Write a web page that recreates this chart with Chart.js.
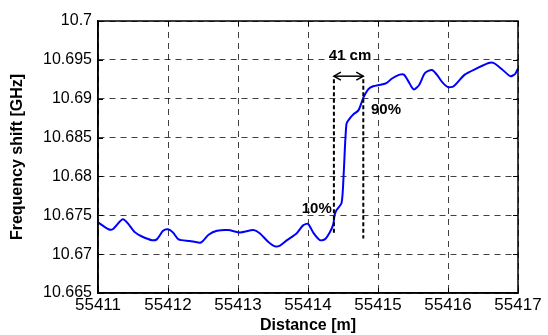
<!DOCTYPE html>
<html>
<head>
<meta charset="utf-8">
<script src="https://cdn.jsdelivr.net/npm/chart.js@4/dist/chart.umd.min.js"></script>
<style>
  html, body { margin: 0; padding: 0; background: #fff; }
  #wrap { width: 548px; height: 335px; }
</style>
</head>
<body>
<div id="wrap"><canvas id="c" width="548" height="335"></canvas></div>
<script>
// Measured frequency shift along the fibre
const distance = [
  55411.00, 55411.15, 55411.21, 55411.36, 55411.53, 55411.62, 55411.77, 55411.84,
  55411.93, 55412.00, 55412.07, 55412.15, 55412.31, 55412.47, 55412.58, 55412.70,
  55412.86, 55413.03, 55413.22, 55413.31, 55413.43, 55413.53, 55413.60, 55413.70,
  55413.84, 55413.93, 55414.00, 55414.08, 55414.17, 55414.24, 55414.31, 55414.36,
  55414.38, 55414.41, 55414.48, 55414.51, 55414.55, 55414.60, 55414.65, 55414.72,
  55414.79, 55414.86, 55414.93, 55415.03, 55415.12, 55415.20, 55415.31, 55415.37,
  55415.43, 55415.51, 55415.59, 55415.67, 55415.77, 55415.84, 55415.92, 55416.00,
  55416.08, 55416.24, 55416.41, 55416.58, 55416.65, 55416.77, 55416.89, 55416.96,
  55417.00
];
const freqShift = [
  10.6741, 10.6732, 10.6732, 10.6745, 10.6728, 10.6723, 10.6718, 10.6719,
  10.6730, 10.6732, 10.6728, 10.6719, 10.6717, 10.6715, 10.6725, 10.6730,
  10.6731, 10.6728, 10.6731, 10.6727, 10.6716, 10.6710, 10.6711, 10.6718,
  10.6727, 10.6737, 10.6739, 10.6727, 10.6718, 10.6719, 10.6728, 10.6738,
  10.6750, 10.6757, 10.6766, 10.6804, 10.6868, 10.6875, 10.6880, 10.6885,
  10.6901, 10.6912, 10.6916, 10.6918, 10.6920, 10.6926, 10.6931, 10.6931,
  10.6923, 10.6912, 10.6918, 10.6933, 10.6937, 10.6931, 10.6921, 10.6915,
  10.6916, 10.6931, 10.6939, 10.6946, 10.6946, 10.6938, 10.6929, 10.6932,
  10.6939
];

// Axis ticks
const xTicks = [55411, 55412, 55413, 55414, 55415, 55416, 55417];
const yTicks = [10.665, 10.67, 10.675, 10.68, 10.685, 10.69, 10.695, 10.7];

// 10 % / 90 % rise markers
const markerX = [55414.37, 55414.79];
const markerTop = [10.6925, 10.6925];
const markerBottom = [10.6725, 10.6720];
const arrowY = 10.6929;

// Text labels
const labelText = ['41 cm', '90%', '10%'];
const labelX = [55414.60, 55414.90, 55413.91];
const labelY = [10.6955, 10.6886, 10.6758];
const labelAlign = ['center', 'left', 'left'];

const fmt = v => String(Number(v.toFixed(3)));

const frameAndText = {
  id: 'frameAndText',
  afterDatasetsDraw(chart) {
    const { ctx, scales: { x, y } } = chart;
    const L = Math.round(x.getPixelForValue(x.min));
    const R = Math.round(x.getPixelForValue(x.max));
    const T = Math.round(y.getPixelForValue(y.max));
    const B = Math.round(y.getPixelForValue(y.min));
    ctx.save();
    // solid box around the plot
    ctx.strokeStyle = '#000';
    ctx.lineWidth = 1.5;
    ctx.setLineDash([]);
    ctx.beginPath();
    ctx.moveTo(L, B); ctx.lineTo(L, T); ctx.lineTo(R, T); ctx.lineTo(R, B); ctx.closePath();
    ctx.stroke();
    // inward tick marks on all sides
    const tl = 5;
    ctx.lineWidth = 1;
    ctx.beginPath();
    x.ticks.forEach(t => {
      const px = Math.round(x.getPixelForValue(t.value)) + 0.5;
      ctx.moveTo(px, B); ctx.lineTo(px, B - tl);
      ctx.moveTo(px, T); ctx.lineTo(px, T + tl);
    });
    y.ticks.forEach(t => {
      const py = Math.round(y.getPixelForValue(t.value)) + 0.5;
      ctx.moveTo(L, py); ctx.lineTo(L + tl, py);
      ctx.moveTo(R, py); ctx.lineTo(R - tl, py);
    });
    ctx.stroke();

    // arrow heads on the width marker
    const ay = y.getPixelForValue(arrowY);
    const x1 = x.getPixelForValue(markerX[0]);
    const x2 = x.getPixelForValue(markerX[1]);
    ctx.lineWidth = 1.5;
    ctx.beginPath();
    ctx.moveTo(x1 + 7, ay - 4); ctx.lineTo(x1, ay); ctx.lineTo(x1 + 7, ay + 4);
    ctx.moveTo(x2 - 7, ay - 4); ctx.lineTo(x2, ay); ctx.lineTo(x2 - 7, ay + 4);
    ctx.stroke();

    // annotation text
    ctx.fillStyle = '#000';
    ctx.font = 'bold 15px "Liberation Sans", Arial, sans-serif';
    ctx.textBaseline = 'middle';
    labelText.forEach((s, i) => {
      ctx.textAlign = labelAlign[i];
      ctx.fillText(s, x.getPixelForValue(labelX[i]), y.getPixelForValue(labelY[i]));
    });
    ctx.restore();
  }
};

const markerStyle = {
  borderColor: '#000',
  borderWidth: 2,
  borderDash: [4, 2.5],
  pointRadius: 0,
  fill: false,
  tension: 0
};

new Chart(document.getElementById('c'), {
  type: 'line',
  data: {
    datasets: [
      Object.assign({ data: [{ x: markerX[0], y: markerTop[0] }, { x: markerX[0], y: markerBottom[0] }] }, markerStyle),
      Object.assign({ data: [{ x: markerX[1], y: markerTop[1] }, { x: markerX[1], y: markerBottom[1] }] }, markerStyle),
      {
        data: [{ x: markerX[0], y: arrowY }, { x: markerX[1], y: arrowY }],
        borderColor: '#000', borderWidth: 1.5, pointRadius: 0, tension: 0
      },
      {
        data: distance.map((d, i) => ({ x: d, y: freqShift[i] })),
        borderColor: '#0000ff',
        borderWidth: 2,
        pointRadius: 0,
        tension: 0.25,
        fill: false
      }
    ]
  },
  options: {
    responsive: false,
    devicePixelRatio: 1,
    animation: false,
    events: [],
    layout: { padding: { top: 21, right: 30, left: 0, bottom: 0 } },
    plugins: { legend: { display: false }, tooltip: { enabled: false } },
    scales: {
      x: {
        type: 'linear',
        min: 55411, max: 55417,
        afterBuildTicks: s => { s.ticks = xTicks.map(v => ({ value: v })); },
        afterFit: s => { s.height = 42; },
        ticks: {
          color: '#000',
          padding: 2,
          maxRotation: 0,
          autoSkip: false,
          font: { family: '"Liberation Sans", Arial, sans-serif', size: 17 },
          callback: v => String(v)
        },
        grid: { color: 'rgba(0,0,0,0.75)', lineWidth: 1, drawTicks: false },
        border: { color: '#000', width: 1.5, dash: [6, 5] },
        title: {
          display: true,
          text: 'Distance [m]',
          color: '#000',
          padding: { top: 0, bottom: 0 },
          font: { family: '"Liberation Sans", Arial, sans-serif', size: 16, weight: 'bold' }
        }
      },
      y: {
        type: 'linear',
        min: 10.665, max: 10.7,
        afterBuildTicks: s => { s.ticks = yTicks.map(v => ({ value: v })); },
        afterFit: s => { s.width = 98; },
        ticks: {
          color: '#000',
          padding: 6,
          autoSkip: false,
          font: { family: '"Liberation Sans", Arial, sans-serif', size: 16 },
          callback: v => fmt(v)
        },
        grid: { color: 'rgba(0,0,0,0.75)', lineWidth: 1, drawTicks: false },
        border: { color: '#000', width: 1.5, dash: [6, 5] },
        title: {
          display: true,
          text: 'Frequency shift [GHz]',
          color: '#000',
          padding: { top: 8, bottom: 0 },
          font: { family: '"Liberation Sans", Arial, sans-serif', size: 16, weight: 'bold' }
        }
      }
    }
  },
  plugins: [frameAndText]
});
</script>
</body>
</html>
